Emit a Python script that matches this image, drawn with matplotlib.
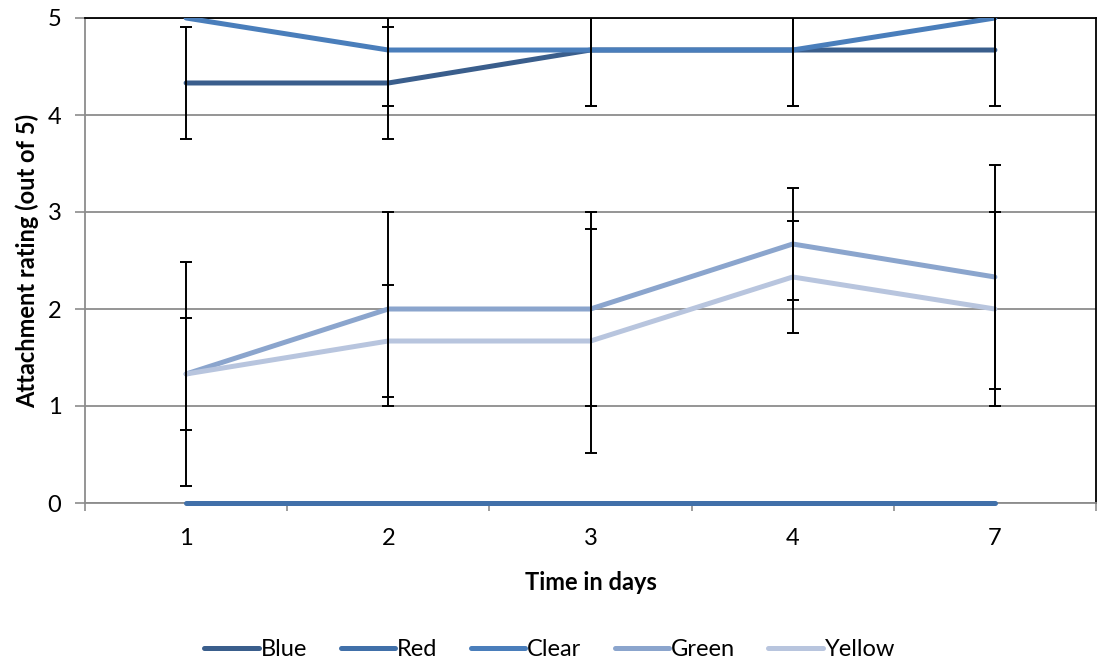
import numpy as np
import matplotlib
matplotlib.use("Agg")
import matplotlib.pyplot as plt

plt.rcParams['font.family'] = ['Lato', 'DejaVu Sans']

# category labels on the x axis
days = ["1", "2", "3", "4", "7"]

# mean ratings per series
blue = [4.33, 4.33, 4.67, 4.67, 4.67]
red = [0, 0, 0, 0, 0]
clear = [5, 4.67, 4.67, 4.67, 5]
green = [1.33, 2, 2, 2.67, 2.33]
yellow = [1.33, 1.67, 1.67, 2.33, 2]

# error bar half-widths
blue_err = [0.577, 0.577, 0.577, 0.577, 0.577]
red_err = [0, 0, 0, 0, 0]
clear_err = [0, 0.577, 0.577, 0.577, 0]
green_err = [1.155, 1, 1, 0.577, 1.155]
yellow_err = [0.577, 0.577, 1.155, 0.577, 1]

names = ["Blue", "Red", "Clear", "Green", "Yellow"]
colors = ["#3A5E8C", "#4170A9", "#4A7EBB", "#8BA5CD", "#B8C5DE"]

FS = 17

fig = plt.figure(figsize=(11, 6.68), dpi=100)
ax = fig.add_axes([85 / 1100, 1 - 503 / 668, (1096 - 85) / 1100, (503 - 18) / 668])

x = np.arange(len(days))
series = [(blue, blue_err), (red, red_err), (clear, clear_err),
          (green, green_err), (yellow, yellow_err)]

for (vals, err), name, col in zip(series, names, colors):
    ax.plot(x, vals, color=col, lw=3.6, label=name, solid_capstyle='round',
            zorder=3, clip_on=(name != "Red"))
for (vals, err), name in zip(series, names):
    err = np.array(err)
    keep = err > 0
    if keep.any():
        ax.errorbar(x[keep], np.array(vals)[keep], yerr=err[keep], fmt='none',
                    ecolor='black', elinewidth=1.4, capsize=4.5, capthick=1.4,
                    zorder=4)

ax.set_xlim(-0.5, len(days) - 0.5)
ax.set_ylim(0, 5)
ax.set_yticks(range(0, 6))
ax.set_xticks(x)
ax.set_xticklabels(days)
ax.set_xticks(np.arange(-0.5, len(days)), minor=True)
ax.tick_params(axis='x', which='major', length=0, pad=18, labelsize=FS)
ax.tick_params(axis='x', which='minor', length=6, color='#8C8C8C', width=1.2)
ax.tick_params(axis='y', length=7, color='#8C8C8C', width=1.2, pad=10, labelsize=FS)

ax.yaxis.grid(True, color='#8C8C8C', lw=1.3)
ax.set_axisbelow(True)

ax.spines['left'].set_color('#8C8C8C')
ax.spines['bottom'].set_color('#8C8C8C')
for s in ['left', 'bottom', 'top', 'right']:
    ax.spines[s].set_linewidth(1.3)
ax.spines['top'].set_color('black')
ax.spines['right'].set_color('black')

ax.set_xlabel("Time in days", fontsize=FS, fontweight='bold', labelpad=16)
ax.set_ylabel("Attachment rating (out of 5)", fontsize=FS, fontweight='bold', labelpad=6)

leg = fig.legend(loc='center', bbox_to_anchor=(0.5, 1 - 650 / 668), ncol=5,
                 frameon=False, fontsize=FS, handlelength=2.3, handletextpad=0.1,
                 columnspacing=1.4)

fig.savefig("out.png", dpi=100)
